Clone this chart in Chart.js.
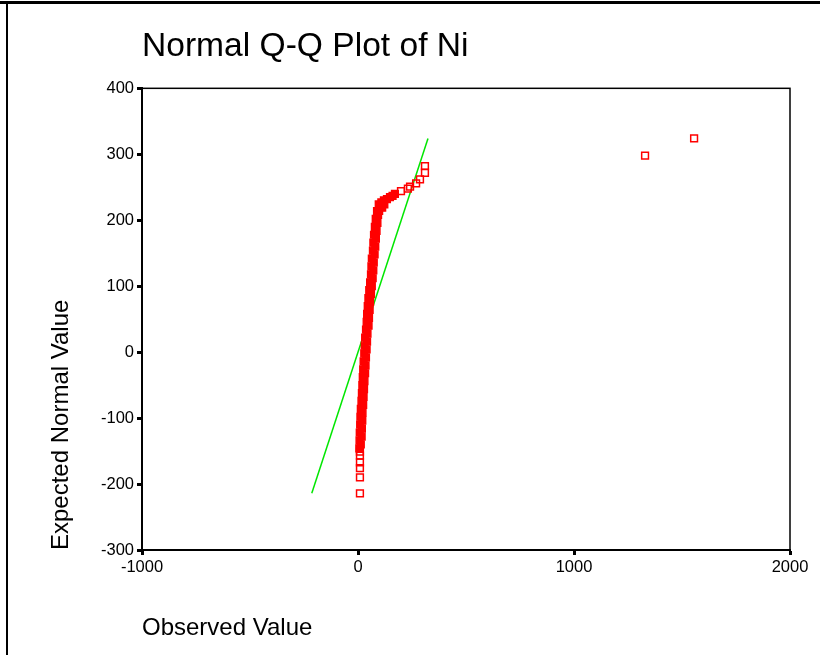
<!DOCTYPE html>
<html>
<head>
<meta charset="utf-8">
<script src="https://cdn.jsdelivr.net/npm/chart.js@4"></script>
<style>
html,body{margin:0;padding:0;background:#fff;}
#wrap{width:820px;height:655px;}
</style>
</head>
<body>
<div id="wrap"><canvas id="c" width="820" height="655"></canvas></div>
<script>
// ---- data ----
const chartTitle = "Normal Q-Q Plot of Ni";
const xAxisTitle = "Observed Value";
const yAxisTitle = "Expected Normal Value";
const xTicks = [-1000, 0, 1000, 2000];
const yTicks = [-300, -200, -100, 0, 100, 200, 300, 400];

// dense central band (overlapping markers)
const bandObserved = [6,13,7,17,8,18,10,20,11,21,13,24,16,26,18,28,20,30,22,33,24,35,26,37,29,40,31,42,33,44,37,49,40,51,42,54,45,56,48,60,52,64,56,68,60,71,62,73,64,77,69,80,71,83,74,86,78,90,82,93,88,105,98,112,122,96,108,120,134,148,160,171];
const bandExpected = [-146,-140,-134,-128,-122,-116,-110,-104,-98,-92,-86,-80,-74,-68,-62,-56,-50,-44,-38,-32,-26,-20,-14,-8,-2,4,10,16,22,28,34,40,46,52,58,64,70,76,82,88,94,100,106,112,118,124,130,136,142,148,154,160,166,172,178,184,190,196,202,208,214,220,214,219,224,224,227,230,232,235,237,240];

// separate points in the tails
const tailObserved = [9,9,9,9,9,9,199,231,241,269,287,310,310,1329,1556];
const tailExpected = [-214,-190,-176,-167,-157,-151,244,248,251,256,262,272,282,298,324];

// reference line (expected = observed)
const lineObserved = [-214, 324];
const lineExpected = [-214, 324];

const FONT = "'Liberation Sans', Arial, sans-serif";

const toXY = (xs, ys) => xs.map((x, i) => ({x: x, y: ys[i]}));

const framePlugin = {
  id: 'frame',
  beforeDraw(chart) {
    const ctx = chart.ctx;
    ctx.save();
    ctx.fillStyle = '#fff';
    ctx.fillRect(0, 0, chart.width, chart.height);
    ctx.strokeStyle = '#000';
    ctx.lineWidth = 3;
    ctx.beginPath();
    ctx.moveTo(0, 2.5);
    ctx.lineTo(chart.width, 2.5);
    ctx.stroke();
    ctx.lineWidth = 2;
    ctx.beginPath();
    ctx.moveTo(7, 2);
    ctx.lineTo(7, chart.height);
    ctx.stroke();
    ctx.restore();
  },
  afterDraw(chart) {
    const a = chart.chartArea;
    const ctx = chart.ctx;
    ctx.save();
    ctx.strokeStyle = '#000';
    ctx.lineWidth = 1.5;
    ctx.strokeRect(a.left, a.top, a.right - a.left, a.bottom - a.top);
    ctx.restore();
  }
};

new Chart(document.getElementById('c'), {
  type: 'scatter',
  data: {
    datasets: [
      {
        label: 'Reference',
        type: 'line',
        data: toXY(lineObserved, lineExpected),
        borderColor: '#00e600',
        borderWidth: 1.5,
        pointRadius: 0,
        fill: false,
        order: 3
      },
      {
        label: 'Band',
        data: toXY(bandObserved, bandExpected),
        pointStyle: 'rect',
        pointRadius: 4.8,
        borderColor: '#ff0000',
        backgroundColor: '#ff0000',
        borderWidth: 1.4,
        order: 1
      },
      {
        label: 'Tails',
        data: toXY(tailObserved, tailExpected),
        pointStyle: 'rect',
        pointRadius: 4.8,
        borderColor: '#ff0000',
        backgroundColor: 'rgba(255,255,255,0)',
        borderWidth: 1.5,
        order: 2
      }
    ]
  },
  options: {
    responsive: false,
    animation: false,
    devicePixelRatio: 1,
    layout: { padding: { top: 0, right: 30, bottom: 0, left: 0 } },
    plugins: {
      legend: { display: false },
      tooltip: { enabled: false },
      title: {
        display: true,
        text: chartTitle,
        align: 'start',
        fullSize: false,
        color: '#000',
        font: { family: FONT, size: 33.6, weight: 'normal', lineHeight: 1.2 },
        padding: { top: 27, bottom: 21 }
      }
    },
    scales: {
      x: {
        type: 'linear',
        min: xTicks[0],
        max: xTicks[xTicks.length - 1],
        afterBuildTicks: s => { s.ticks = xTicks.map(v => ({value: v})); },
        afterFit: s => { s.height = 105; },
        border: { display: true, color: '#000', width: 2 },
        grid: { drawOnChartArea: false, drawTicks: true, tickLength: 5, tickWidth: 3, tickColor: '#000' },
        ticks: { color: '#000', padding: 3, maxRotation: 0, font: { family: FONT, size: 16.5 }, callback: v => String(v) },
        title: {
          display: true, text: xAxisTitle, align: 'start', color: '#000',
          font: { family: FONT, size: 24, lineHeight: 1.2 },
          padding: { top: 0, bottom: 12 }
        }
      },
      y: {
        type: 'linear',
        min: yTicks[0],
        max: yTicks[yTicks.length - 1],
        afterBuildTicks: s => { s.ticks = yTicks.map(v => ({value: v})); },
        afterFit: s => { s.width = 142; },
        border: { display: true, color: '#000', width: 2 },
        grid: { drawOnChartArea: false, drawTicks: true, tickLength: 5, tickWidth: 3, tickColor: '#000' },
        ticks: { color: '#000', padding: 3, font: { family: FONT, size: 16.5 }, callback: v => String(v) },
        title: {
          display: true, text: yAxisTitle, align: 'start', color: '#000',
          font: { family: FONT, size: 24, lineHeight: 1.2 },
          padding: { top: 47, bottom: 0 }
        }
      }
    }
  },
  plugins: [framePlugin]
});
</script>
</body>
</html>
